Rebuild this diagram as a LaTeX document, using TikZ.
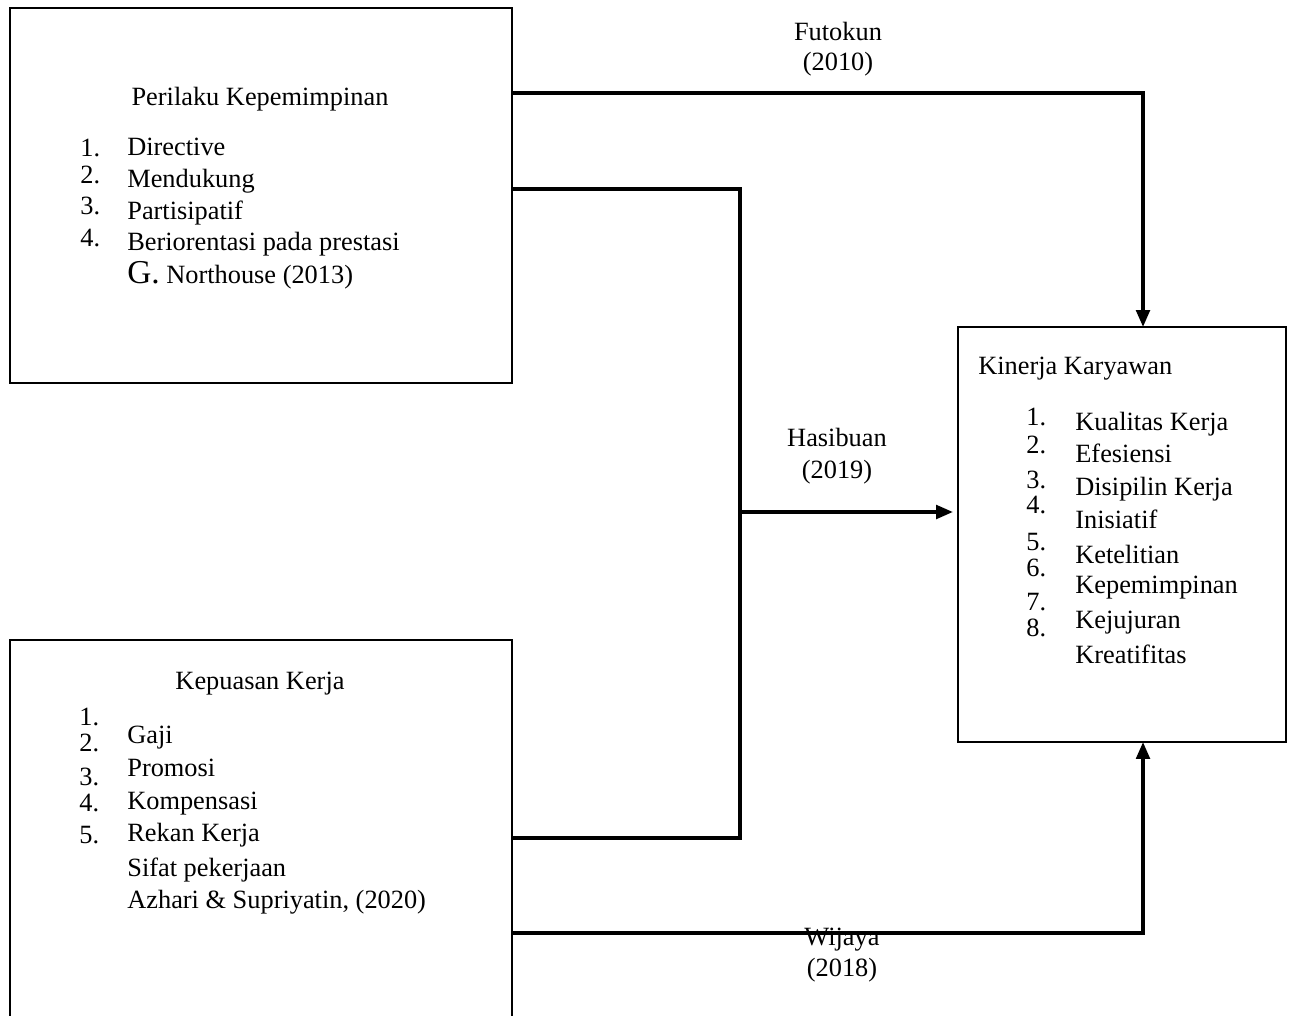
\documentclass[tikz,border=0pt]{standalone}
\usepackage{fontspec}
\setmainfont{Liberation Serif}
\usetikzlibrary{arrows.meta,positioning,calc}
\tikzset{
  arr/.style={-{Triangle[length=3.4mm,width=2.7mm]}, line width=2.1pt, draw=black},
  conn/.style={line width=2.1pt, draw=black},
  figbase/.style={
    x=0.02cm, y=-0.02cm,
    font=\fontsize{15}{18}\selectfont,
    line join=miter,
  },
  box/.style={draw=black, line width=1.2pt, outer sep=0pt, inner sep=0pt},
  txt/.style={anchor=base west, inner sep=0pt, yshift=-0.06cm},
  ctr/.style={anchor=base, inner sep=0pt, yshift=-0.06cm},
}
\begin{document}
\begin{tikzpicture}[figbase]
  \useasboundingbox (0,0) rectangle (1293,1016);

  \node[box, minimum width=10.04cm, minimum height=7.5cm] (perilaku) at (261,195.5) {};
  \node[box, minimum width=10.04cm, minimum height=7.6cm] (kepuasan) at (261,830) {};
  \node[box, minimum width=6.56cm, minimum height=8.3cm] (kinerja) at (1122,534.5) {};

  % Perilaku Kepemimpinan
  \node[ctr] (pt) at (260,103) {Perilaku Kepemimpinan};
  \node[txt] (pn1) at (80,154) {1.};
  \node[txt] (pn2) at (80,181) {2.};
  \node[txt] (pn3) at (80,212) {3.};
  \node[txt] (pn4) at (80,244) {4.};
  \node[txt] (pi1) at (127,153) {Directive};
  \node[txt] (pi2) at (127,185) {Mendukung};
  \node[txt] (pi3) at (127,217) {Partisipatif};
  \node[txt] (pi4) at (127,248) {Beriorentasi pada prestasi};
  \node[txt] (psrc) at (127,281) {{\fontsize{19}{20}\selectfont G.} Northouse (2013)};

  % Kepuasan Kerja
  \node[ctr] (kt) at (260,686) {Kepuasan Kerja};
  \node[txt] (kn1) at (79,722) {1.};
  \node[txt] (kn2) at (79,748) {2.};
  \node[txt] (kn3) at (79,782) {3.};
  \node[txt] (kn4) at (79,808) {4.};
  \node[txt] (kn5) at (79,840) {5.};
  \node[txt] (ki1) at (127,740) {Gaji};
  \node[txt] (ki2) at (127,773) {Promosi};
  \node[txt] (ki3) at (127,806) {Kompensasi};
  \node[txt] (ki4) at (127,838) {Rekan Kerja};
  \node[txt] (ki5) at (127,873) {Sifat pekerjaan};
  \node[txt] (ksrc) at (127,905) {Azhari \& Supriyatin, (2020)};

  % Kinerja Karyawan
  \node[txt] (nt) at (978,372) {Kinerja Karyawan};
  \node[txt] (nn1) at (1026,423) {1.};
  \node[txt] (nn2) at (1026,450) {2.};
  \node[txt] (nn3) at (1026,485) {3.};
  \node[txt] (nn4) at (1026,510) {4.};
  \node[txt] (nn5) at (1026,547) {5.};
  \node[txt] (nn6) at (1026,573) {6.};
  \node[txt] (nn7) at (1026,607) {7.};
  \node[txt] (nn8) at (1026,633) {8.};
  \node[txt] (ni1) at (1075,427) {Kualitas Kerja};
  \node[txt] (ni2) at (1075,459) {Efesiensi};
  \node[txt] (ni3) at (1075,492) {Disipilin Kerja};
  \node[txt] (ni4) at (1075,525) {Inisiatif};
  \node[txt] (ni5) at (1075,560) {Ketelitian};
  \node[txt] (ni6) at (1075,590) {Kepemimpinan};
  \node[txt] (ni7) at (1075,625) {Kejujuran};
  \node[txt] (ni8) at (1075,660) {Kreatifitas};

  % connectors
  \coordinate (fk) at (1143,93);
  \coordinate (hs) at (740,512);
  \coordinate (wj) at (1143,933);
  \draw[arr] (perilaku.east |- fk) -- (fk) -- (fk |- kinerja.north);
  \draw[conn] (perilaku.east |- 0,189) -- (hs |- 0,189) -- (hs |- 0,838) -- (kepuasan.east |- 0,838);
  \draw[arr, shorten >=1mm] (hs) -- (kinerja.west |- hs);
  \draw[arr] (kepuasan.east |- wj) -- (wj) -- (wj |- kinerja.south);

  \node[ctr] (fl1) at (838,38) {Futokun};
  \node[ctr] (fl2) at (838,68) {(2010)};
  \node[ctr] (hl1) at (837,443) {Hasibuan};
  \node[ctr] (hl2) at (837,475) {(2019)};
  \node[ctr] (wl1) at (842,942) {Wijaya};
  \node[ctr] (wl2) at (842,973) {(2018)};
\end{tikzpicture}
\end{document}
